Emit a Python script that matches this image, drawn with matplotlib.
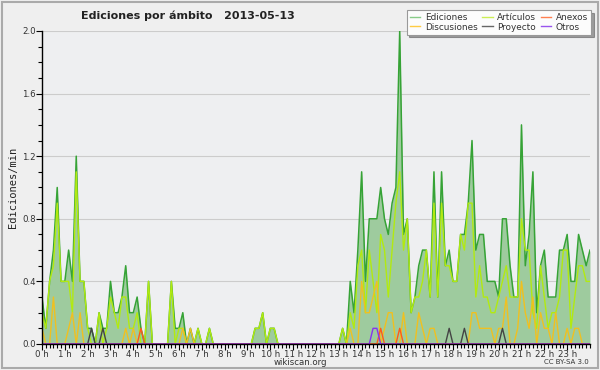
import numpy as np
import matplotlib
matplotlib.use("Agg")
import matplotlib.pyplot as plt
from matplotlib.patches import Rectangle
from matplotlib.ticker import MultipleLocator

# edits per minute, one value per 10 minutes, 0:00 .. 24:00
ediciones = [
    0.3, 0.1, 0.4, 0.6, 1.0, 0.4,
    0.4, 0.6, 0.4, 1.2, 0.4, 0.4,
    0.1, 0.1, 0.0, 0.2, 0.1, 0.1,
    0.4, 0.2, 0.2, 0.3, 0.5, 0.2,
    0.2, 0.3, 0.1, 0.0, 0.4, 0.0,
    0.0, 0.0, 0.0, 0.0, 0.4, 0.1,
    0.1, 0.2, 0.0, 0.1, 0.0, 0.1,
    0.0, 0.0, 0.1, 0.0, 0.0, 0.0,
    0.0, 0.0, 0.0, 0.0, 0.0, 0.0,
    0.0, 0.0, 0.1, 0.1, 0.2, 0.0,
    0.1, 0.1, 0.0, 0.0, 0.0, 0.0,
    0.0, 0.0, 0.0, 0.0, 0.0, 0.0,
    0.0, 0.0, 0.0, 0.0, 0.0, 0.0,
    0.0, 0.1, 0.0, 0.4, 0.2, 0.6,
    1.1, 0.4, 0.8, 0.8, 0.8, 1.0,
    0.8, 0.7, 0.9, 1.0, 2.0, 0.7,
    0.8, 0.2, 0.3, 0.5, 0.6, 0.6,
    0.3, 1.1, 0.3, 1.1, 0.5, 0.6,
    0.4, 0.4, 0.7, 0.7, 0.9, 1.3,
    0.6, 0.7, 0.7, 0.4, 0.4, 0.4,
    0.3, 0.8, 0.8, 0.5, 0.3, 0.3,
    1.4, 0.5, 0.7, 1.1, 0.2, 0.5,
    0.6, 0.3, 0.3, 0.3, 0.6, 0.6,
    0.7, 0.4, 0.4, 0.7, 0.6, 0.5,
    0.6,
]

articulos = [
    0.2, 0.1, 0.4, 0.5, 0.9, 0.4,
    0.4, 0.4, 0.2, 1.1, 0.4, 0.4,
    0.1, 0.0, 0.0, 0.2, 0.0, 0.1,
    0.3, 0.2, 0.1, 0.3, 0.3, 0.1,
    0.1, 0.2, 0.0, 0.0, 0.4, 0.0,
    0.0, 0.0, 0.0, 0.0, 0.4, 0.0,
    0.1, 0.1, 0.0, 0.0, 0.0, 0.1,
    0.0, 0.0, 0.1, 0.0, 0.0, 0.0,
    0.0, 0.0, 0.0, 0.0, 0.0, 0.0,
    0.0, 0.0, 0.1, 0.1, 0.2, 0.0,
    0.1, 0.1, 0.0, 0.0, 0.0, 0.0,
    0.0, 0.0, 0.0, 0.0, 0.0, 0.0,
    0.0, 0.0, 0.0, 0.0, 0.0, 0.0,
    0.0, 0.1, 0.0, 0.2, 0.1, 0.5,
    0.6, 0.2, 0.6, 0.4, 0.2, 0.7,
    0.6, 0.3, 0.6, 0.9, 1.1, 0.6,
    0.8, 0.2, 0.3, 0.3, 0.4, 0.6,
    0.3, 0.9, 0.3, 0.9, 0.5, 0.5,
    0.4, 0.4, 0.7, 0.6, 0.9, 0.9,
    0.3, 0.5, 0.3, 0.3, 0.2, 0.2,
    0.3, 0.4, 0.5, 0.3, 0.3, 0.3,
    0.8, 0.6, 0.6, 0.2, 0.1, 0.5,
    0.3, 0.1, 0.2, 0.2, 0.3, 0.6,
    0.6, 0.1, 0.3, 0.5, 0.5, 0.4,
    0.4,
]

discusiones = [
    0.1, 0.0, 0.0, 0.3, 0.0, 0.0,
    0.0, 0.1, 0.2, 0.0, 0.2, 0.0,
    0.0, 0.0, 0.0, 0.0, 0.0, 0.0,
    0.0, 0.0, 0.0, 0.0, 0.1, 0.0,
    0.1, 0.0, 0.0, 0.0, 0.0, 0.0,
    0.0, 0.0, 0.0, 0.0, 0.0, 0.0,
    0.0, 0.1, 0.0, 0.1, 0.0, 0.0,
    0.0, 0.0, 0.0, 0.0, 0.0, 0.0,
    0.0, 0.0, 0.0, 0.0, 0.0, 0.0,
    0.0, 0.0, 0.0, 0.0, 0.0, 0.0,
    0.0, 0.0, 0.0, 0.0, 0.0, 0.0,
    0.0, 0.0, 0.0, 0.0, 0.0, 0.0,
    0.0, 0.0, 0.0, 0.0, 0.0, 0.0,
    0.0, 0.0, 0.0, 0.1, 0.0, 0.0,
    0.4, 0.2, 0.2, 0.3, 0.4, 0.0,
    0.1, 0.2, 0.2, 0.0, 0.0, 0.2,
    0.0, 0.0, 0.0, 0.2, 0.1, 0.0,
    0.1, 0.1, 0.0, 0.0, 0.0, 0.0,
    0.0, 0.0, 0.0, 0.0, 0.0, 0.2,
    0.2, 0.1, 0.1, 0.1, 0.1, 0.0,
    0.1, 0.1, 0.3, 0.0, 0.0, 0.1,
    0.4, 0.2, 0.1, 0.3, 0.0, 0.2,
    0.1, 0.1, 0.0, 0.2, 0.0, 0.0,
    0.1, 0.0, 0.1, 0.1, 0.0, 0.0,
    0.0,
]

# sparse series: (slot index, value), slot = hour*6 + minute/10
proyecto_pts = [(13, 0.1), (16, 0.1), (107, 0.1), (111, 0.1), (121, 0.1)]
anexos_pts = [(26, 0.1), (89, 0.1), (94, 0.1)]
otros_pts = [(87, 0.1), (88, 0.1)]

hour_labels = [f"{h} h" for h in range(24)]

n = len(ediciones)
t = np.arange(n) / 6.0


def sparse(points):
    s = np.zeros(n)
    for i, v in points:
        s[i] = v
    return s


proyecto = sparse(proyecto_pts)
anexos = sparse(anexos_pts)
otros = sparse(otros_pts)

bg = "#eeeff1"
fig = plt.figure(figsize=(6, 3.7), dpi=100, facecolor="#efefef")
ax = fig.add_axes([0.07, 0.0703, 0.9133, 0.846])
ax.set_facecolor(bg)

ax.fill_between(t, ediciones, 0, color="#9ecb9e", lw=0, zorder=1)
ax.plot(t, ediciones, color="#36a336", lw=1.1, zorder=2)
ax.plot(t, articulos, color="#b2ea10", lw=1.0, zorder=2.1)
ax.plot(t, discusiones, color="#f0c020", lw=1.0, zorder=2.2)
ax.plot(t, proyecto, color="#444444", lw=1.0, zorder=2.3)
ax.plot(t, anexos, color="#ff5a1a", lw=1.0, zorder=2.3)
ax.plot(t, otros, color="#8833ee", lw=1.0, zorder=2.3)

ax.set_xlim(0, 24)
ax.set_ylim(0, 2.0)
ax.yaxis.set_major_locator(MultipleLocator(0.4))
ax.yaxis.set_minor_locator(MultipleLocator(0.1))
ax.set_xticks(range(24))
ax.set_xticklabels(hour_labels)
ax.xaxis.set_minor_locator(MultipleLocator(1 / 6))
ax.grid(axis="y", which="major", color="#cccccc", lw=0.8, zorder=0)
ax.set_axisbelow(True)

for s in ["top", "right"]:
    ax.spines[s].set_visible(False)
for s in ["left", "bottom"]:
    ax.spines[s].set_color("black")
    ax.spines[s].set_linewidth(1.0)
    ax.spines[s].set_zorder(5)

ax.tick_params(axis="both", which="major", length=4, width=0.8,
               labelsize=6.2, labelcolor="#333333", pad=0.5)
ax.tick_params(axis="both", which="minor", length=3, width=0.8)
ax.set_yticklabels([f"{v:.1f}" for v in ax.get_yticks()])

ax.set_ylabel("Ediciones/min", family="DejaVu Sans Mono", fontsize=7.5,
              color="#222222", labelpad=3)

fig.text(0.313, 0.958, "Ediciones por ámbito   2013-05-13", ha="center",
         va="center", fontsize=8, fontweight="bold", color="#222222")
fig.text(0.5, 0.021, "wikiscan.org", ha="center", va="center",
         fontsize=6.2, color="#333333")
fig.text(0.982, 0.021, "CC BY-SA 3.0", ha="right", va="center",
         fontsize=5, color="#333333")

# legend: column order matches the reference (3 cols x 2 rows)
handles = [
    plt.Line2D([], [], color="#88cc88", lw=1),
    plt.Line2D([], [], color="#ffcc44", lw=1),
    plt.Line2D([], [], color="#ccee55", lw=1),
    plt.Line2D([], [], color="#666666", lw=1),
    plt.Line2D([], [], color="#ff8050", lw=1),
    plt.Line2D([], [], color="#9955ee", lw=1),
]
labels = ["Ediciones", "Discusiones", "Artículos", "Proyecto", "Anexos", "Otros"]
leg = fig.legend(handles, labels, ncol=3, loc="upper right",
                 bbox_to_anchor=(0.985, 0.973), fontsize=6.4,
                 frameon=True, fancybox=False, shadow=True,
                 handlelength=1.2, handletextpad=0.5, columnspacing=0.5,
                 labelspacing=0.05, borderpad=0.35, borderaxespad=0)
leg.get_frame().set_facecolor("#fcfcfc")
leg.get_frame().set_edgecolor("#999999")
leg.get_frame().set_linewidth(0.8)
for txt in leg.get_texts():
    txt.set_color("#333333")

fig.patches.append(Rectangle((0.003, 0.005), 0.994, 0.99,
                             transform=fig.transFigure, fill=False,
                             edgecolor="#aaaaaa", lw=1.5))

fig.savefig("out.png", dpi=100, facecolor=fig.get_facecolor())
